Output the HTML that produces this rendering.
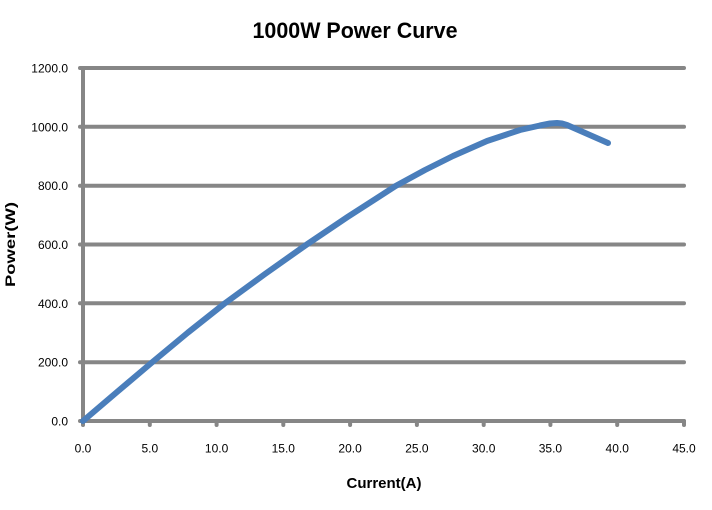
<!DOCTYPE html>
<html>
<head>
<meta charset="utf-8">
<style>
  html,body{margin:0;padding:0;background:#fff;}
  svg{display:block;}
  text{font-family:"Liberation Sans", Arial, sans-serif;}
</style>
</head>
<body>
<svg width="712" height="510" viewBox="0 0 712 510" xmlns="http://www.w3.org/2000/svg">
  <rect width="712" height="510" fill="#fff"/>
  <!-- title -->
  <text x="355" y="38" font-size="22" font-weight="bold" text-anchor="middle" textLength="205" lengthAdjust="spacingAndGlyphs" fill="#000">1000W Power Curve</text>

  <!-- gridlines -->
  <g stroke="#868686" stroke-width="4" stroke-linecap="round" fill="none">
    <line x1="80" y1="68" x2="684" y2="68"/>
    <line x1="80" y1="126.8" x2="684" y2="126.8"/>
    <line x1="80" y1="185.7" x2="684" y2="185.7"/>
    <line x1="80" y1="244.5" x2="684" y2="244.5"/>
    <line x1="80" y1="303.3" x2="684" y2="303.3"/>
    <line x1="80" y1="362.2" x2="684" y2="362.2"/>
    <line x1="80" y1="421" x2="684" y2="421"/>
    <line x1="83" y1="68" x2="83" y2="425"/>
    <!-- x ticks -->
    <line x1="149.8" y1="421" x2="149.8" y2="425"/>
    <line x1="216.6" y1="421" x2="216.6" y2="425"/>
    <line x1="283.3" y1="421" x2="283.3" y2="425"/>
    <line x1="350.1" y1="421" x2="350.1" y2="425"/>
    <line x1="416.9" y1="421" x2="416.9" y2="425"/>
    <line x1="483.7" y1="421" x2="483.7" y2="425"/>
    <line x1="550.4" y1="421" x2="550.4" y2="425"/>
    <line x1="617.2" y1="421" x2="617.2" y2="425"/>
    <line x1="684" y1="421" x2="684" y2="425"/>
  </g>

  <!-- y labels -->
  <g font-size="12" text-anchor="end" fill="#000">
    <text x="68" y="72.5">1200.0</text>
    <text x="68" y="131.3">1000.0</text>
    <text x="68" y="190.2">800.0</text>
    <text x="68" y="249">600.0</text>
    <text x="68" y="307.8">400.0</text>
    <text x="68" y="366.7">200.0</text>
    <text x="68" y="425.5">0.0</text>
  </g>

  <!-- x labels -->
  <g font-size="12" text-anchor="middle" fill="#000">
    <text x="83" y="452.5">0.0</text>
    <text x="149.8" y="452.5">5.0</text>
    <text x="216.6" y="452.5">10.0</text>
    <text x="283.3" y="452.5">15.0</text>
    <text x="350.1" y="452.5">20.0</text>
    <text x="416.9" y="452.5">25.0</text>
    <text x="483.7" y="452.5">30.0</text>
    <text x="550.4" y="452.5">35.0</text>
    <text x="617.2" y="452.5">40.0</text>
    <text x="684" y="452.5">45.0</text>
  </g>

  <!-- axis titles -->
  <text x="384" y="488" font-size="15" font-weight="bold" text-anchor="middle" textLength="75" lengthAdjust="spacingAndGlyphs" fill="#000">Current(A)</text>
  <text transform="translate(15,244.5) rotate(-90)" x="0" y="0" font-size="14" font-weight="bold" text-anchor="middle" textLength="85" lengthAdjust="spacingAndGlyphs" fill="#000">Power(W)</text>

  <!-- curve -->
  <polyline fill="none" stroke="#4A7EBB" stroke-width="6" stroke-linecap="round" stroke-linejoin="round"
    points="83,421 117,392 152.5,362 188,332.5 224.6,303.5 265,274 306,245 347.5,217 395.6,186 425,170 453,156 487,141 520,130 540,125.5 550,123.5 557,123 562,123.5 567,125 608,143"/>
</svg>
</body>
</html>
